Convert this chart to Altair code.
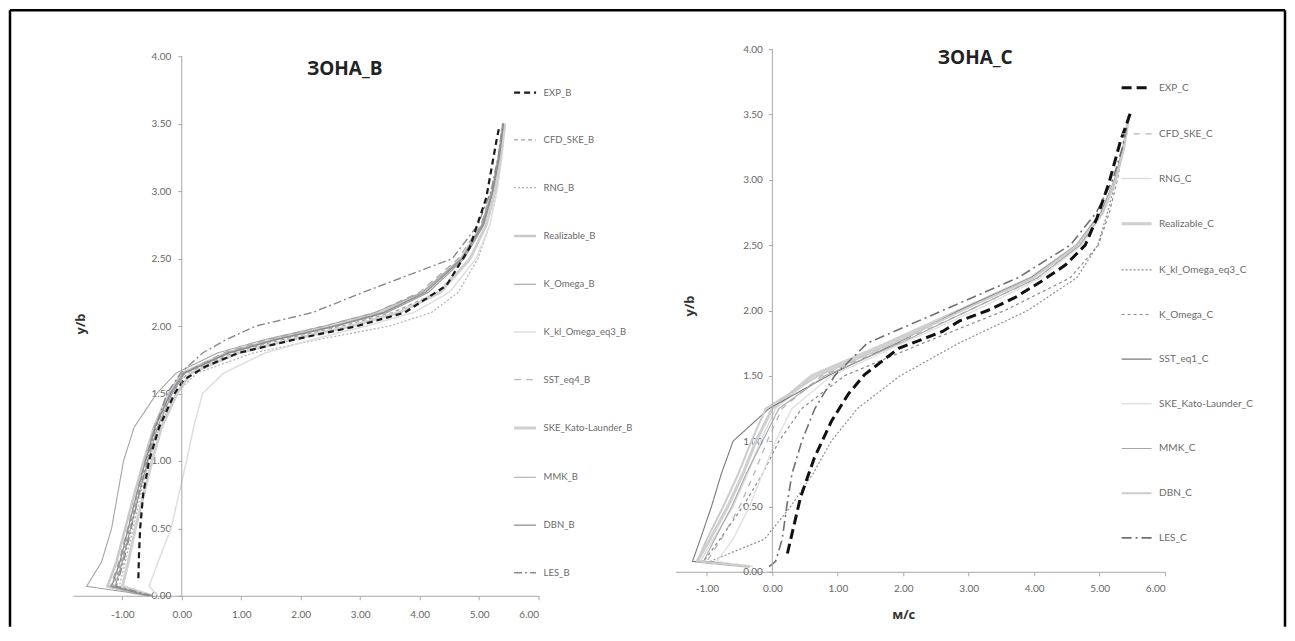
import altair as alt
import pandas as pd

# ---------------- ZONE B ----------------
B_NAMES = ["EXP_B", "CFD_SKE_B", "RNG_B", "Realizable_B", "K_Omega_B",
           "K_kl_Omega_eq3_B", "SST_eq4_B", "SKE_Kato-Launder_B", "MMK_B",
           "DBN_B", "LES_B"]

EXP_B_Y = [0.13, 0.30, 0.50, 0.75, 1.00, 1.25, 1.50, 1.60, 1.70, 1.80, 1.90,
           2.00, 2.10, 2.30, 2.58, 2.95, 3.37, 3.48]
EXP_B_X = [-0.73, -0.72, -0.70, -0.65, -0.55, -0.38, -0.12, 0.03, 0.40, 0.95,
           1.90, 2.95, 3.75, 4.45, 4.84, 5.12, 5.29, 5.34]

Y_B = [0.00, 0.07, 0.25, 0.50, 0.75, 1.00, 1.25, 1.50, 1.65, 1.80, 1.90,
       2.00, 2.10, 2.25, 2.50, 2.75, 3.00, 3.25, 3.50]
CFD_SKE_B = [-0.55, -1.15, -1.02, -0.88, -0.74, -0.60, -0.44, -0.18, 0.10, 0.85,
             1.70, 2.70, 3.55, 4.30, 4.85, 5.12, 5.27, 5.36, 5.42]
RNG_B = [-0.50, -1.05, -0.95, -0.82, -0.69, -0.55, -0.38, -0.10, 0.25, 1.20,
         2.30, 3.50, 4.20, 4.65, 4.98, 5.18, 5.30, 5.38, 5.44]
REALIZABLE_B = [-0.60, -1.25, -1.10, -0.95, -0.80, -0.64, -0.47, -0.22, 0.00, 0.75,
                1.55, 2.55, 3.35, 4.05, 4.70, 5.05, 5.22, 5.33, 5.40]
K_OMEGA_B = [-0.55, -1.12, -1.00, -0.86, -0.72, -0.57, -0.41, -0.16, 0.05, 0.80,
             1.60, 2.60, 3.45, 4.15, 4.75, 5.08, 5.24, 5.34, 5.41]
K_KL_OMEGA_B = [-0.40, -0.55, -0.40, -0.18, -0.05, 0.08, 0.20, 0.35, 0.70, 1.40,
                2.20, 3.10, 3.90, 4.50, 4.95, 5.18, 5.30, 5.38, 5.44]
SST_EQ4_B = [-0.55, -1.20, -1.06, -0.91, -0.76, -0.62, -0.46, -0.20, 0.02, 0.70,
             1.45, 2.40, 3.25, 4.00, 4.65, 5.03, 5.21, 5.32, 5.40]
SKE_KL_B = [-0.50, -1.00, -0.90, -0.78, -0.64, -0.50, -0.34, -0.08, 0.15, 0.95,
            1.85, 2.85, 3.65, 4.35, 4.85, 5.12, 5.27, 5.36, 5.43]
MMK_B = [-0.50, -1.60, -1.35, -1.18, -1.08, -0.98, -0.80, -0.42, -0.10, 0.60,
         1.40, 2.40, 3.25, 4.05, 4.70, 5.05, 5.22, 5.33, 5.41]
DBN_B = [-0.55, -1.18, -1.04, -0.90, -0.76, -0.61, -0.45, -0.19, 0.03, 0.78,
         1.58, 2.58, 3.40, 4.10, 4.72, 5.06, 5.23, 5.34, 5.41]
LES_B = [-0.50, -1.10, -0.98, -0.85, -0.72, -0.58, -0.44, -0.25, -0.02, 0.35,
         0.75, 1.25, 2.20, 3.05, 4.55, 4.98, 5.20, 5.32, 5.40]

B_COLORS = ["#1a1a1a", "#a0a0a0", "#b0b0b0", "#c8c8c8", "#9a9a9a", "#dedede",
            "#a8a8a8", "#d0d0d0", "#a5a5a5", "#8c8c8c", "#8a8a8a"]
B_DASHES = [[6, 4], [4, 3], [2, 2], [1, 0], [1, 0], [1, 0], [7, 5], [1, 0],
            [1, 0], [1, 0], [8, 3, 2, 3]]
B_WIDTHS = [2.2, 1.2, 1.2, 2.5, 1.2, 1.5, 1.2, 3.0, 1.1, 1.3, 1.4]

# ---------------- ZONE C ----------------
C_NAMES = ["EXP_C", "CFD_SKE_C", "RNG_C", "Realizable_C", "K_kl_Omega_eq3_C",
           "K_Omega_C", "SST_eq1_C", "SKE_Kato-Launder_C", "MMK_C", "DBN_C",
           "LES_C"]

EXP_C_Y = [0.14, 0.57, 0.87, 1.15, 1.36, 1.51, 1.71, 1.84, 1.92, 2.00, 2.10,
           2.23, 2.35, 2.50, 2.71, 2.99, 3.30, 3.51]
EXP_C_X = [0.23, 0.43, 0.64, 0.90, 1.16, 1.41, 1.93, 2.60, 2.86, 3.29, 3.71,
           4.13, 4.48, 4.78, 4.96, 5.15, 5.32, 5.47]

Y_C = [0.04, 0.08, 0.25, 0.50, 0.75, 1.00, 1.25, 1.50, 1.75, 2.00, 2.25, 2.50,
       2.75, 3.00, 3.25, 3.50]
CFD_SKE_C = [-0.30, -1.00, -0.78, -0.50, -0.28, -0.08, 0.15, 0.75, 1.90, 3.00,
             4.05, 4.70, 5.05, 5.25, 5.37, 5.45]
RNG_C = [-0.35, -1.10, -0.90, -0.60, -0.38, -0.18, 0.05, 0.65, 1.80, 2.90,
         4.00, 4.68, 5.05, 5.25, 5.37, 5.45]
REALIZABLE_C = [-0.35, -1.15, -0.95, -0.68, -0.45, -0.25, 0.00, 0.60, 1.75, 2.85,
                3.95, 4.65, 5.03, 5.24, 5.37, 5.45]
K_KL_OMEGA_C = [-0.40, -0.95, -0.12, 0.28, 0.62, 0.90, 1.30, 1.95, 2.85, 3.90,
                4.65, 4.97, 5.12, 5.25, 5.36, 5.45]
K_OMEGA_C = [-0.35, -1.05, -0.80, -0.45, -0.15, 0.10, 0.45, 1.10, 2.30, 3.55,
             4.55, 4.98, 5.15, 5.27, 5.37, 5.45]
SST_EQ1_C = [-0.35, -1.22, -1.10, -0.93, -0.78, -0.60, -0.05, 0.85, 1.90, 2.85,
             3.95, 4.65, 5.02, 5.23, 5.36, 5.45]
SKE_KL_C = [-0.30, -0.85, -0.60, -0.35, -0.15, 0.05, 0.30, 0.90, 2.00, 3.10,
            4.10, 4.72, 5.06, 5.26, 5.37, 5.45]
MMK_C = [-0.35, -1.05, -0.88, -0.62, -0.40, -0.15, 0.10, 0.80, 1.95, 3.00,
         4.05, 4.70, 5.05, 5.25, 5.37, 5.45]
DBN_C = [-0.35, -1.15, -1.00, -0.75, -0.52, -0.32, -0.10, 0.70, 1.85, 2.90,
         3.98, 4.66, 5.04, 5.24, 5.37, 5.45]
LES_C = [-0.05, 0.05, 0.15, 0.22, 0.30, 0.45, 0.65, 0.95, 1.45, 2.60,
         3.75, 4.55, 4.95, 5.20, 5.35, 5.45]

C_COLORS = ["#111111", "#b5b5b5", "#dcdcdc", "#cfcfcf", "#8f8f8f", "#8a8a8a",
            "#7a7a7a", "#e2e2e2", "#a8a8a8", "#cccccc", "#707070"]
C_DASHES = [[10, 5], [6, 6], [1, 0], [1, 0], [2, 2], [3, 3], [1, 0], [1, 0],
            [1, 0], [1, 0], [10, 4, 2, 4]]
C_WIDTHS = [3.0, 1.3, 1.5, 3.0, 1.2, 1.2, 1.1, 1.5, 1.1, 2.0, 1.6]

X_TICKS = [-1, 0, 1, 2, 3, 4, 5, 6]
Y_TICKS = [0, 0.5, 1, 1.5, 2, 2.5, 3, 3.5, 4]

FONT = "Lato"
TFONT = "Open Sans"


def build_frame(names, exp_y, exp_x, grid_y, others):
    rows = []
    for name, xs in zip(names[1:], others):
        for xv, yv in zip(xs, grid_y):
            rows.append({"series": name, "x": xv, "y": yv})
    for xv, yv in zip(exp_x, exp_y):
        rows.append({"series": names[0], "x": xv, "y": yv})
    return pd.DataFrame(rows)


df_b = build_frame(B_NAMES, EXP_B_Y, EXP_B_X, Y_B,
                   [CFD_SKE_B, RNG_B, REALIZABLE_B, K_OMEGA_B, K_KL_OMEGA_B,
                    SST_EQ4_B, SKE_KL_B, MMK_B, DBN_B, LES_B])
df_c = build_frame(C_NAMES, EXP_C_Y, EXP_C_X, Y_C,
                   [CFD_SKE_C, RNG_C, REALIZABLE_C, K_KL_OMEGA_C, K_OMEGA_C,
                    SST_EQ1_C, SKE_KL_C, MMK_C, DBN_C, LES_C])


def panel(df, names, colors, dashes, widths, xdom, ydom, w, h, yoff,
          lx, ly, rowpad, symsize, lfs, title, tx, ty, ytx, yty, xtitle,
          xtitle_x, label_pad_x, label_pad_y, extra=None):
    xs = alt.Scale(domain=xdom, nice=False, zero=False)
    ys = alt.Scale(domain=ydom, nice=False, zero=False)
    leg = alt.Legend(orient="none", legendX=lx, legendY=ly, title=None,
                     symbolType="stroke", symbolSize=symsize,
                     labelFont=FONT, labelFontSize=lfs, labelColor="#6a6a6a",
                     rowPadding=rowpad, labelOffset=6)
    xaxis = alt.Axis(values=X_TICKS, format=".2f", grid=False,
                     labelFont=FONT, labelFontSize=10, labelColor="#666666",
                     domainColor="#a8a8a8", tickColor="#a8a8a8", tickSize=4,
                     labelPadding=label_pad_x, title=xtitle if xtitle else None,
                     titleFont=TFONT, titleFontSize=13, titleFontWeight="bold",
                     titleColor="#333333", titleX=xtitle_x, titlePadding=15,
                     labelExpr="replace(datum.label, '\u2212', '-')")
    yaxis = alt.Axis(values=Y_TICKS, format=".2f", grid=False, domain=False,
                     offset=-yoff, labelFont=FONT, labelFontSize=10,
                     labelColor="#666666", tickColor="#a8a8a8", tickSize=4,
                     labelPadding=label_pad_y, title=None)
    lines = alt.Chart(df).mark_line().encode(
        x=alt.X("x:Q", scale=xs, axis=xaxis),
        y=alt.Y("y:Q", scale=ys, axis=yaxis),
        color=alt.Color("series:N", scale=alt.Scale(domain=names, range=colors),
                        legend=leg),
        strokeDash=alt.StrokeDash("series:N",
                                  scale=alt.Scale(domain=names, range=dashes),
                                  legend=leg),
        strokeWidth=alt.StrokeWidth("series:N",
                                    scale=alt.Scale(type="ordinal", domain=names,
                                                    range=widths),
                                    legend=leg),
        order=alt.Order("y:Q"),
    )
    yline = alt.Chart(pd.DataFrame({"x": [0], "y": [0], "y2": [4]})).mark_rule(
        color="#a8a8a8", strokeWidth=1).encode(
        x=alt.X("x:Q", scale=xs, axis=xaxis),
        y=alt.Y("y:Q", scale=ys, axis=yaxis), y2="y2:Q")
    ttl = alt.Chart(pd.DataFrame({"t": [title]})).mark_text(
        font=TFONT, fontSize=19, fontWeight="bold", color="#222222",
        align="center", baseline="middle").encode(
        text="t:N", x=alt.value(tx), y=alt.value(ty))
    ytl = alt.Chart(pd.DataFrame({"t": ["y/b"]})).mark_text(
        font=TFONT, fontSize=13, fontWeight="bold", color="#333333",
        align="center", baseline="middle", angle=270).encode(
        text="t:N", x=alt.value(ytx), y=alt.value(yty))
    layers = [lines, yline, ttl, ytl]
    if extra is not None:
        layers = layers + extra
    return alt.layer(*layers).properties(width=w, height=h)


frame_df = pd.DataFrame({"k": [0]})
border = [
    alt.Chart(frame_df).mark_rule(color="#000000", strokeWidth=2.5).encode(
        x=alt.value(-63), y=alt.value(-39), y2=alt.value(578)),
    alt.Chart(frame_df).mark_rule(color="#000000", strokeWidth=2.5).encode(
        x=alt.value(-63), x2=alt.value(1213), y=alt.value(-39)),
    alt.Chart(frame_df).mark_rule(color="#000000", strokeWidth=2.5).encode(
        x=alt.value(1213), y=alt.value(-39), y2=alt.value(578)),
]

left = panel(df_b, B_NAMES, B_COLORS, B_DASHES, B_WIDTHS,
             [-1.83, 6], [0, 4.052], 466, 547, 108.9,
             440, 31, 30.8, 484, 9.5,
             "ЗОНА_В", 272, 20, 8, 275, None, 0, 10, 7, extra=border)

right = panel(df_c, C_NAMES, C_COLORS, C_DASHES, C_WIDTHS,
              [-1.48, 6], [0, 4], 490, 523, 96.95,
              445, 22, 23.7, 900, 10,
              "ЗОНА_С", 300, 9, 15, 257, "м/с", 228, 8, 6)

chart = alt.hconcat(left, right, spacing=137, bounds="flush", padding=0,
                    background="#ffffff"
).resolve_scale(
    x="independent", y="independent", color="independent",
    strokeDash="independent", strokeWidth="independent"
).resolve_legend(
    color="independent", strokeDash="independent", strokeWidth="independent"
).configure_view(strokeWidth=0, stroke="transparent")

chart.save("out.html", embed_options={"renderer": "svg", "actions": False})
